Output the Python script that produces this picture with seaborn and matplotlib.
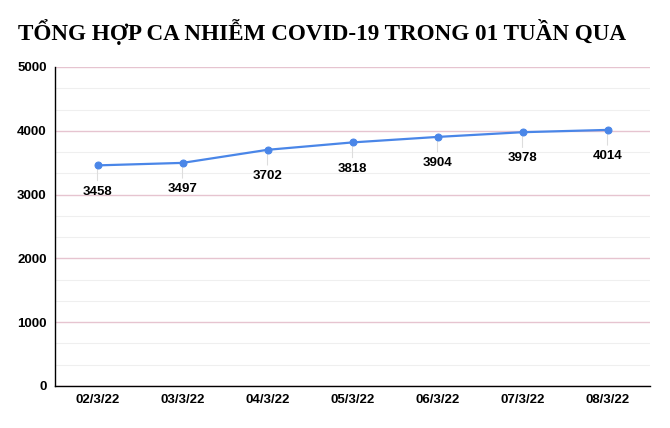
import matplotlib.pyplot as plt
import seaborn as sns
import pandas as pd
from matplotlib.ticker import FixedLocator

# Data
dates = ["02/3/22", "03/3/22", "04/3/22", "05/3/22", "06/3/22", "07/3/22", "08/3/22"]
cases = [3458, 3497, 3702, 3818, 3904, 3978, 4014]
y_ticks = [0, 1000, 2000, 3000, 4000, 5000]

df = pd.DataFrame({"date": dates, "cases": cases})
df["pos"] = range(len(df))

sns.set_style("white")
plt.rcParams["font.family"] = ["Liberation Sans", "DejaVu Sans"]

fig = plt.figure(figsize=(6.7, 4.28), dpi=100)
ax = fig.add_axes([55 / 670, 42 / 428, 595 / 670, 319 / 428])

# grid lines: major every 1000 (pinkish), minor every third (light gray)
minor = [t + k * 1000 / 3 for t in y_ticks[:-1] for k in (1, 2)]
ax.set_yticks(y_ticks)
ax.yaxis.set_minor_locator(FixedLocator(minor))
ax.grid(which="major", axis="y", color="#e6c4d0", linewidth=1, zorder=0)
ax.grid(which="minor", axis="y", color="#efefef", linewidth=0.8, zorder=0)
ax.set_axisbelow(True)

sns.lineplot(data=df, x="pos", y="cases", ax=ax, color="#4a86e8",
             linewidth=1.6, marker="o", markersize=5,
             markeredgecolor="#4a86e8", zorder=3)

# value labels below points with a thin leader line
for x, y in zip(df["pos"], df["cases"]):
    ax.annotate("", xy=(x, y), xytext=(0, -13), textcoords="offset points",
                arrowprops=dict(arrowstyle="-", color="#dddddd", lw=0.8),
                zorder=2)
    ax.annotate(f"{y}", xy=(x, y), xytext=(0, -14.5), textcoords="offset points",
                ha="center", va="top", fontsize=9.5, fontweight="bold",
                color="black")

ax.set_xlim(-0.5, len(dates) - 0.5)
ax.set_ylim(0, 5000)
ax.set_xticks(df["pos"])
ax.set_xticklabels(dates)
ax.set_xlabel("")
ax.set_ylabel("")

for s in ["top", "right"]:
    ax.spines[s].set_visible(False)
for s in ["left", "bottom"]:
    ax.spines[s].set_color("black")
    ax.spines[s].set_linewidth(1)

ax.tick_params(axis="y", which="major", direction="in", length=10, width=1,
               color="black", labelsize=9.5, pad=6, labelcolor="black")
ax.tick_params(axis="y", which="minor", length=0)
ax.tick_params(axis="x", direction="in", length=5, width=1, color="black",
               labelsize=9.5, pad=6, labelcolor="black")
for lab in ax.get_xticklabels() + ax.get_yticklabels():
    lab.set_fontweight("bold")

fig.suptitle("TỔNG HỢP CA NHIỄM COVID-19 TRONG 01 TUẦN QUA",
             family=["Liberation Serif", "DejaVu Serif"], fontweight="bold",
             fontsize=16.7, x=322 / 670, y=0.955, color="black")

fig.savefig("out.png", dpi=100)
